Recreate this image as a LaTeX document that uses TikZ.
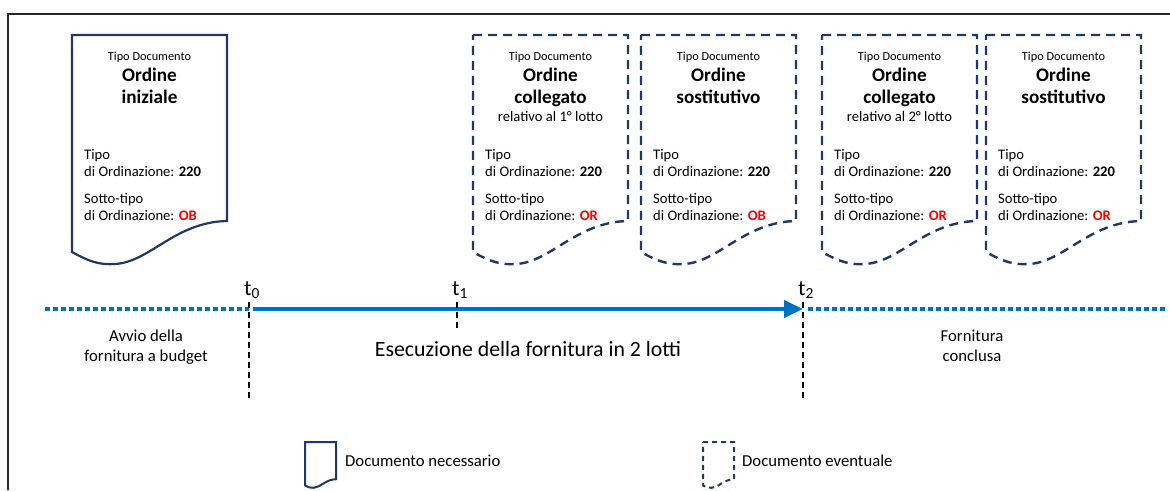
\documentclass[tikz,border=0pt]{standalone}
\usepackage{fontspec}
\setmainfont{Carlito}
\usetikzlibrary{arrows.meta}
\definecolor{blu}{RGB}{0, 112, 192}
\definecolor{notte}{RGB}{32, 56, 100}
\definecolor{rosso}{RGB}{255, 0, 0}
\newcommand{\codice}[1]{\textcolor{rosso}{\textbf{#1}}}
\newcommand{\campi}[1]{Tipo\\di Ordinazione: \textbf{220}\\[10pt]Sotto-tipo\\di Ordinazione: \codice{#1}}

\tikzset{
  foglio/.pic={\draw[pic actions] (0,0) -- (155,0) -- (155,186)
    .. controls (103,187) and (78,227) .. (43,229)
    .. controls (28,230) and (18,227) .. (0,217) -- cycle;},
  necessario/.style={draw=notte, line width=2.2pt},
  eventuale/.style={draw=notte, line width=2.4pt, dash pattern=on 9pt off 6pt},
  tipodoc/.style={font=\fontsize{12.3}{14}\selectfont, anchor=base, inner sep=0pt},
  titolo/.style={font=\fontsize{19.2}{22}\selectfont\bfseries, align=center, anchor=north, inner sep=0pt},
  nota/.style={font=\fontsize{14.6}{17}\selectfont, anchor=base, inner sep=0pt},
  campo/.style={font=\fontsize{14.6}{17}\selectfont, align=left, anchor=north west, inner sep=0pt},
  etichetta/.style={font=\fontsize{16.7}{20}\selectfont, align=center, anchor=north, inner sep=0pt},
  istante/.style={font=\fontsize{22}{26}\selectfont, anchor=base, inner sep=0pt},
  puntini/.style={blu, line width=3.5pt, dash pattern=on 4.5pt off 3.5pt},
  asse/.style={blu, line width=4pt, -{Triangle[length=19pt, width=17pt]}},
  tacca/.style={line width=1.3pt, dash pattern=on 6pt off 4pt},
  cornice/.style={line width=2pt, black!85}
}

\begin{document}
\begin{tikzpicture}[x=1pt, y=-1pt]

  \useasboundingbox (0,0) rectangle (1170,490);
  \draw[cornice] (8,490) -- (8,14) -- (1170,14);

  % documenti
  \pic[necessario] at (72,35) {foglio};
  \node[tipodoc] (d1-tipo) at (149.5,60) {Tipo Documento};
  \node[titolo] (d1-titolo) at (149.5,68) {Ordine\\iniziale};
  \node[campo] (d1-campi) at (84,149) {\campi{OB}};

  \pic[eventuale] at (473,35) {foglio};
  \node[tipodoc] (d2-tipo) at (550.5,60) {Tipo Documento};
  \node[titolo] (d2-titolo) at (550.5,68) {Ordine\\collegato};
  \node[nota] (d2-nota) at (550.5,121) {relativo al 1° lotto};
  \node[campo] (d2-campi) at (485,149) {\campi{OR}};

  \pic[eventuale] at (641,35) {foglio};
  \node[tipodoc] (d3-tipo) at (718.5,60) {Tipo Documento};
  \node[titolo] (d3-titolo) at (718.5,68) {Ordine\\sostitutivo};
  \node[campo] (d3-campi) at (653,149) {\campi{OB}};

  \pic[eventuale] at (822,35) {foglio};
  \node[tipodoc] (d4-tipo) at (899.5,60) {Tipo Documento};
  \node[titolo] (d4-titolo) at (899.5,68) {Ordine\\collegato};
  \node[nota] (d4-nota) at (899.5,121) {relativo al 2° lotto};
  \node[campo] (d4-campi) at (834,149) {\campi{OR}};

  \pic[eventuale] at (986,35) {foglio};
  \node[tipodoc] (d5-tipo) at (1063.5,60) {Tipo Documento};
  \node[titolo] (d5-titolo) at (1063.5,68) {Ordine\\sostitutivo};
  \node[campo] (d5-campi) at (998,149) {\campi{OR}};

  % linea del tempo
  \coordinate (inizio) at (45,309);
  \coordinate (t0) at (249,309);
  \coordinate (t1) at (457,309);
  \coordinate (t2) at (803,309);
  \coordinate (fine) at (1166,309);
  \draw[puntini] (inizio) -- (t0);
  \draw[asse] ([xshift=4pt]t0) -- (t2);
  \draw[puntini] ([xshift=5pt]t2) -- (fine);

  \node[istante] (lt0) at (252,295) {t\textsubscript{0}};
  \node[istante] (lt1) at (460,295) {t\textsubscript{1}};
  \node[istante] (lt2) at (806,295) {t\textsubscript{2}};
  \coordinate (t0-su) at (249,302);
  \coordinate (t0-giu) at (249,400);
  \coordinate (t1-su) at (457,302);
  \coordinate (t1-giu) at (457,330);
  \coordinate (t2-su) at (803,302);
  \coordinate (t2-giu) at (803,400);
  \draw[tacca] (t0-su) -- (t0-giu);
  \draw[tacca] (t1-su) -- (t1-giu);
  \draw[tacca] (t2-su) -- (t2-giu);

  \node[etichetta] (avvio) at (146,330) {Avvio della\\fornitura a budget};
  \node[etichetta, font=\fontsize{21.8}{26}\selectfont] (esecuzione) at (528,341) {Esecuzione della fornitura in 2 lotti};
  \node[etichetta] (conclusa) at (972,330) {Fornitura\\conclusa};

  % legenda
  \pic[necessario, line width=2pt, scale=0.2] at (305,442) {foglio};
  \node[etichetta, anchor=base west] (l-necessario) at (345,466) {Documento necessario};
  \pic[eventuale, line width=2pt, dash pattern=on 5pt off 4pt, scale=0.2] at (703,442) {foglio};
  \node[etichetta, anchor=base west] (l-eventuale) at (742,466) {Documento eventuale};

\end{tikzpicture}
\end{document}
